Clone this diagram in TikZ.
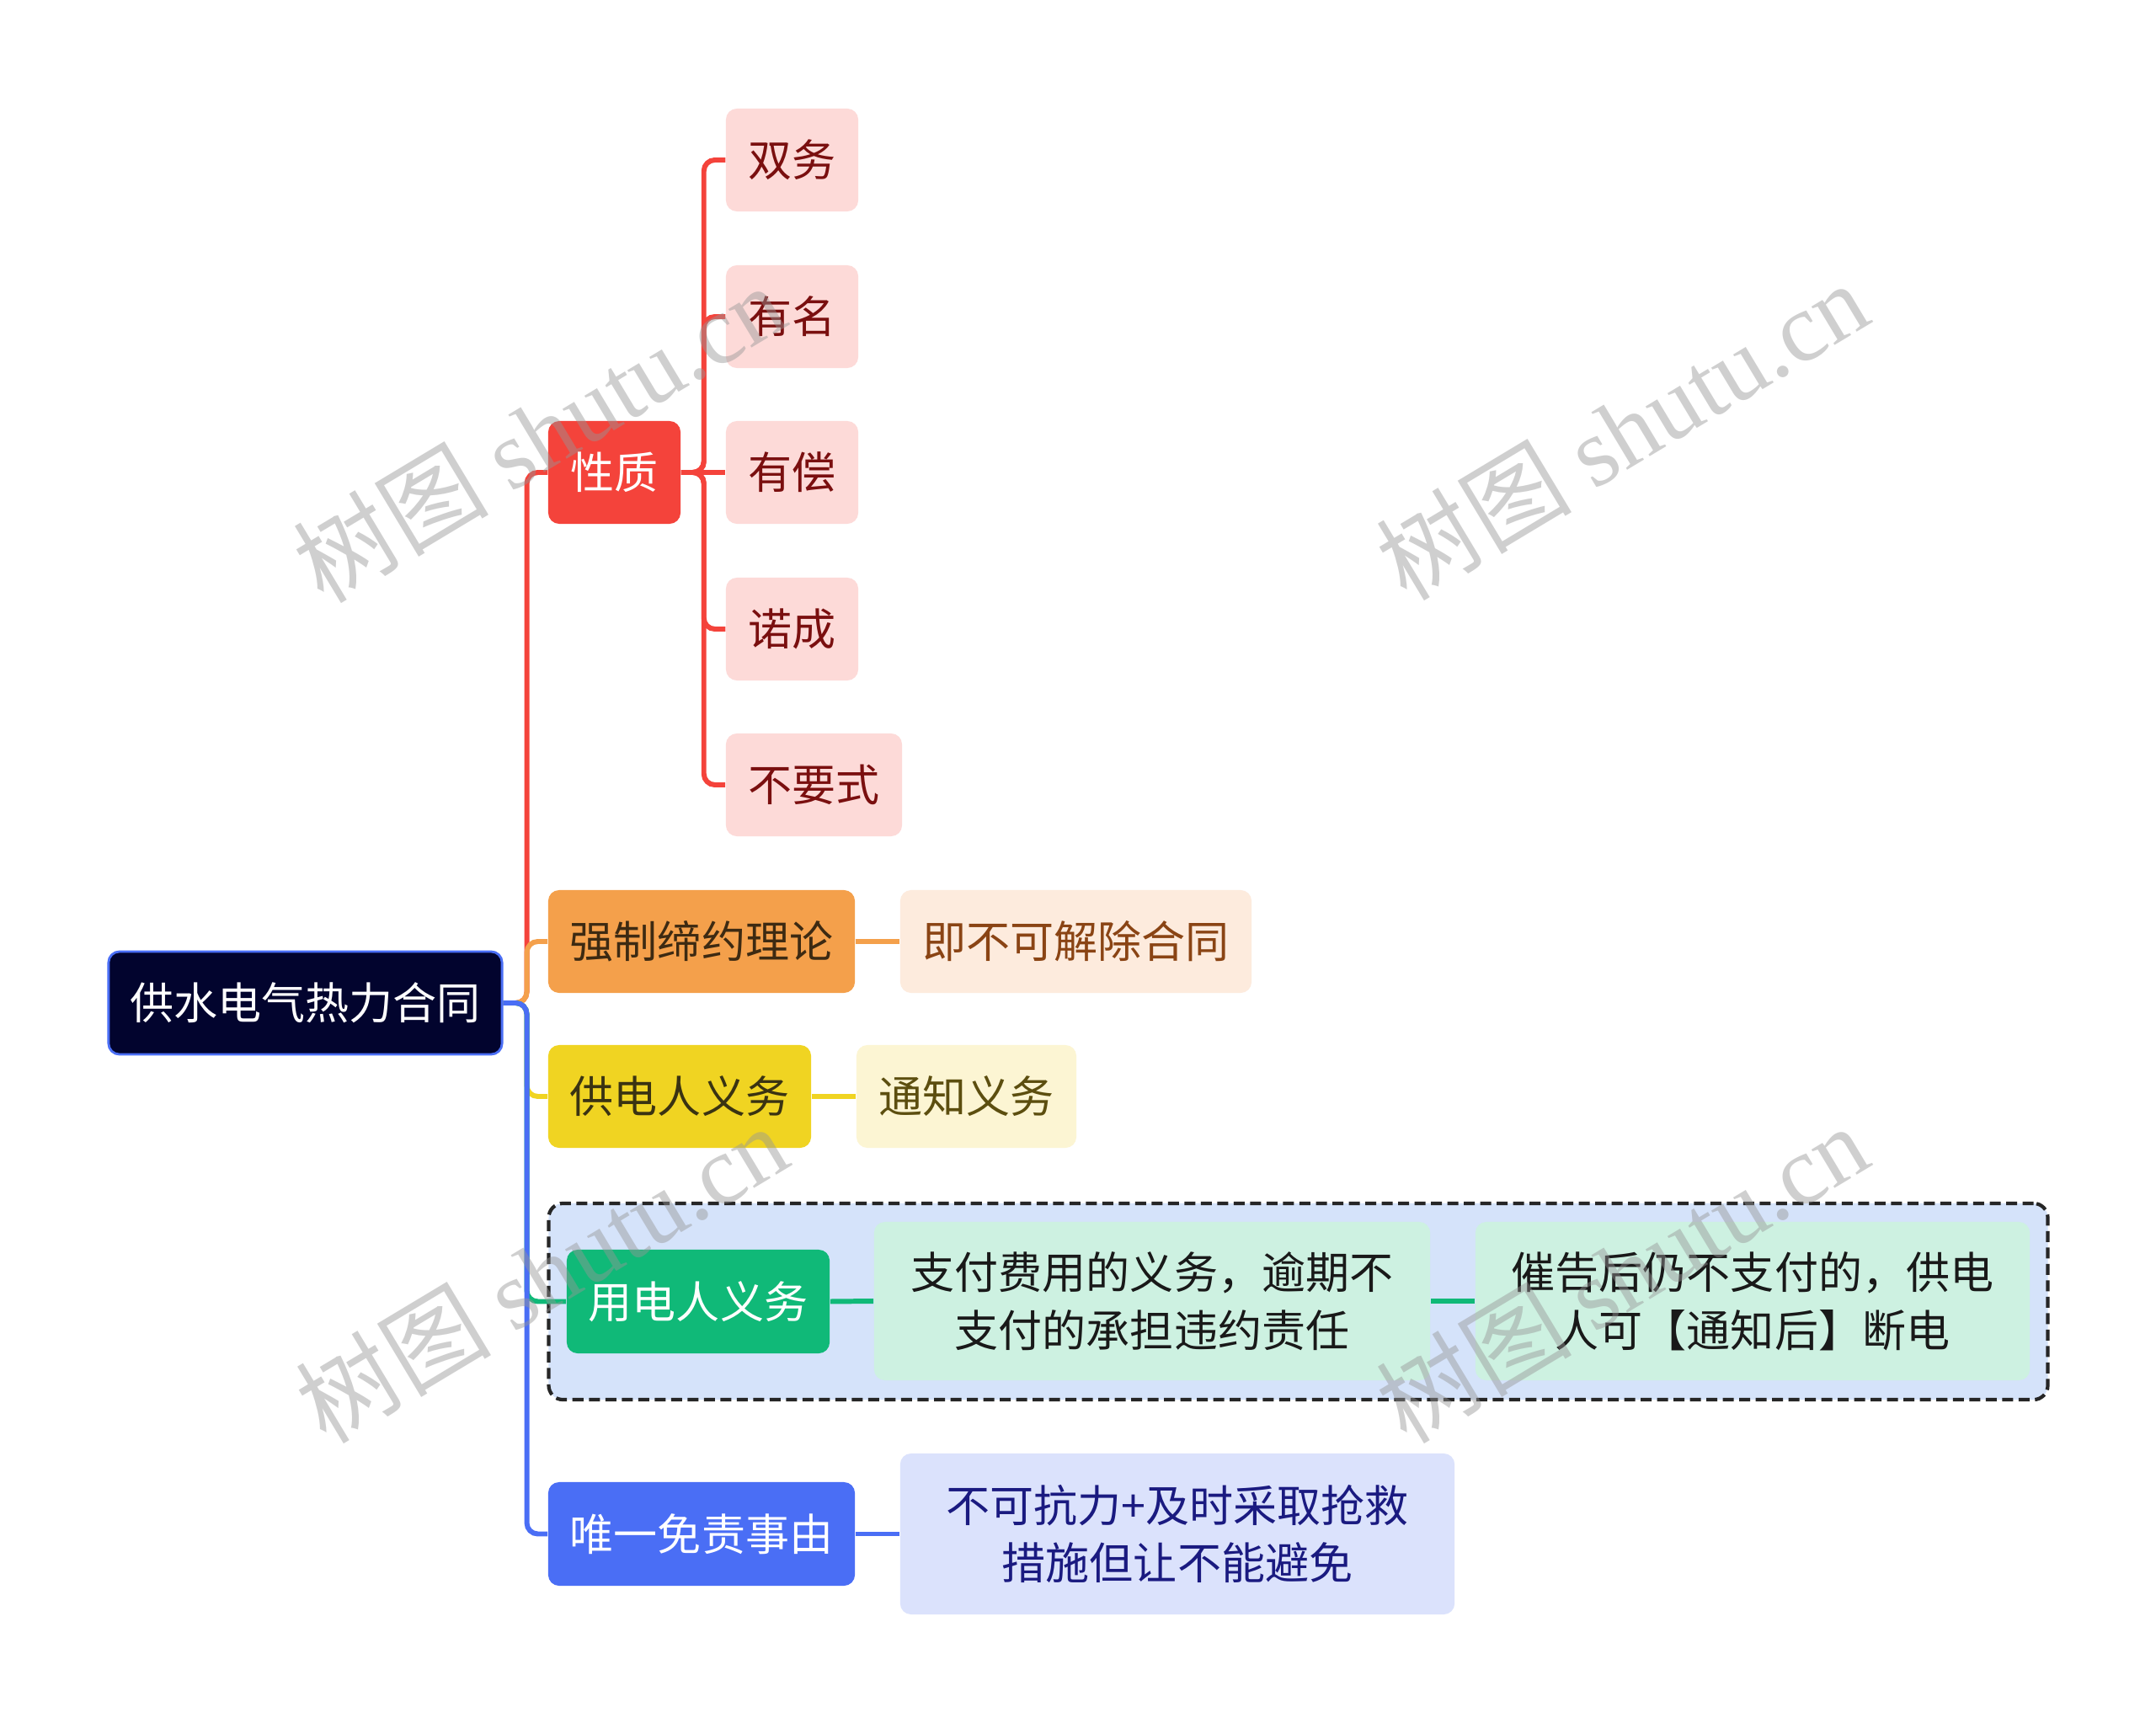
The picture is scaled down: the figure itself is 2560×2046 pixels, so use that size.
\documentclass[tikz,border=0pt]{standalone}
\usepackage{fontspec}
\newfontfamily\cjk{Noto Sans CJK SC}
\newfontfamily\wmserif{Liberation Serif}
\definecolor{cRoot}{HTML}{02042E}
\definecolor{cBlue}{HTML}{4A6EF5}
\definecolor{cRed}{HTML}{F4433B}
\definecolor{cPink}{HTML}{FDDAD8}
\definecolor{cRedTxt}{HTML}{7A0F0F}
\definecolor{cOrange}{HTML}{F4A04B}
\definecolor{cOrangeL}{HTML}{FDEBDD}
\definecolor{cOrangeTxt}{HTML}{8A4414}
\definecolor{cOrangeDk}{HTML}{3D2A12}
\definecolor{cYellow}{HTML}{F0D422}
\definecolor{cYellowL}{HTML}{FCF5D3}
\definecolor{cYellowTxt}{HTML}{5C4E0F}
\definecolor{cYellowDk}{HTML}{3A3312}
\definecolor{cGreen}{HTML}{10B978}
\definecolor{cGreenL}{HTML}{CDF1E1}
\definecolor{cBlueL}{HTML}{DBE2FC}
\definecolor{cBlueTxt}{HTML}{1A1A80}
\definecolor{cCont}{HTML}{D5E3FA}
\definecolor{cWM}{HTML}{969696}
\pgfdeclarelayer{bg}
\pgfdeclarelayer{fg}
\pgfsetlayers{bg,main,fg}
\tikzset{
  box/.style={rounded corners=0.13cm, inner sep=0pt, align=center,
    font=\cjk\fontsize{14.8}{19.6}\selectfont, minimum height=1.22cm},
  conn/.style={line width=1.7pt, rounded corners=0.13cm},
  wm/.style={text=cWM, opacity=0.45, font=\fontsize{33}{33}\selectfont, rotate=31, inner sep=0pt}
}
\begin{document}
\begin{tikzpicture}[x=0.01cm, y=-0.01cm]
\useasboundingbox (0,0) rectangle (2560,2046);

% nodes
\node[box, fill=cRoot, draw=cBlue, line width=0.8pt, text=white, minimum width=4.67cm] (root) at (362.5,1191) {供水电气热力合同};

\node[box, fill=cRed, text=white, minimum width=1.57cm] (xz) at (729.5,561) {性质};
\node[box, fill=cPink, text=cRedTxt, minimum width=1.57cm] (c1) at (940.5,190) {双务};
\node[box, fill=cPink, text=cRedTxt, minimum width=1.57cm] (c2) at (940.5,376) {有名};
\node[box, fill=cPink, text=cRedTxt, minimum width=1.57cm] (c3) at (940.5,561) {有偿};
\node[box, fill=cPink, text=cRedTxt, minimum width=1.57cm] (c4) at (940.5,747) {诺成};
\node[box, fill=cPink, text=cRedTxt, minimum width=2.09cm] (c5) at (966.5,932) {不要式};

\node[box, fill=cOrange, text=cOrangeDk, minimum width=3.64cm] (qz) at (833,1118) {强制缔约理论};
\node[box, fill=cOrangeL, text=cOrangeTxt, minimum width=4.17cm] (jb) at (1277.5,1118) {即不可解除合同};

\node[box, fill=cYellow, text=cYellowDk, minimum width=3.12cm] (gd) at (807,1302) {供电人义务};
\node[box, fill=cYellowL, text=cYellowTxt, minimum width=2.61cm] (tz) at (1147.5,1302) {通知义务};

\node[box, fill=cGreen, text=white, minimum width=3.12cm, minimum height=1.23cm] (yd) at (829,1545.5) {用电人义务};
\node[box, fill=cGreenL, text=black!90, minimum width=6.60cm, minimum height=1.88cm] (zf) at (1368,1545) {支付费用的义务，逾期不\\支付的承担违约责任};
\node[box, fill=cGreenL, text=black!90, minimum width=6.58cm, minimum height=1.88cm] (cg) at (2081,1545) {催告后仍不支付的，供电\\人可【通知后】断电};

\node[box, fill=cBlue, text=white, minimum width=3.64cm, minimum height=1.23cm] (wy) at (833,1821.5) {唯一免责事由};
\node[box, fill=cBlueL, text=cBlueTxt, minimum width=6.58cm, minimum height=1.91cm] (bk) at (1398,1821.5) {不可抗力+及时采取抢救\\措施但让不能避免};

\begin{pgfonlayer}{bg}
  \fill[white] (0,0) rectangle (2560,2046);
  \node[draw=black!85, fill=cCont, line width=1.2pt, dash pattern=on 0.13cm off 0.065cm,
        rounded corners=0.17cm, minimum width=17.79cm, minimum height=2.33cm, inner sep=0pt]
        (grp) at (1541.5,1545.5) {};
  % root branches
  \draw[conn, cRed] (root.east) -- ++(28,0) |- (xz.west);
  \draw[conn, cOrange] (root.east) -- ++(28,0) |- (qz.west);
  \draw[conn, cYellow] (root.east) -- ++(28,0) |- (gd.west);
  \draw[conn, cGreen] (root.east) -- ++(28,0) |- (yd.west);
  \draw[conn, cBlue] (root.east) -- ++(28,0) |- (wy.west);
  % 性质 branches
  \draw[conn, cRed] (xz.east) -- ++(27,0) |- (c1.west);
  \draw[conn, cRed] (xz.east) -- ++(27,0) |- (c2.west);
  \draw[conn, cRed] (xz.east) -- (c3.west);
  \draw[conn, cRed] (xz.east) -- ++(27,0) |- (c4.west);
  \draw[conn, cRed] (xz.east) -- ++(27,0) |- (c5.west);
  % straight links
  \draw[conn, cOrange] (qz.east) -- (jb.west);
  \draw[conn, cYellow] (gd.east) -- (tz.west);
  \draw[conn, cGreen] (yd.east) -- (zf.west);
  \draw[conn, cGreen] (zf.east) -- (cg.west);
  \draw[conn, cBlue] (wy.east) -- (bk.west);
\end{pgfonlayer}

\begin{pgfonlayer}{fg}
  \node[wm] (wm1) at (640,514) {\cjk 树图 \wmserif shutu.cn};
  \node[wm] (wm2) at (1926,511) {\cjk 树图 \wmserif shutu.cn};
  \node[wm] (wm3) at (643,1512) {\cjk 树图 \wmserif shutu.cn};
  \node[wm] (wm4) at (1926,1512) {\cjk 树图 \wmserif shutu.cn};
\end{pgfonlayer}
\end{tikzpicture}
\end{document}
